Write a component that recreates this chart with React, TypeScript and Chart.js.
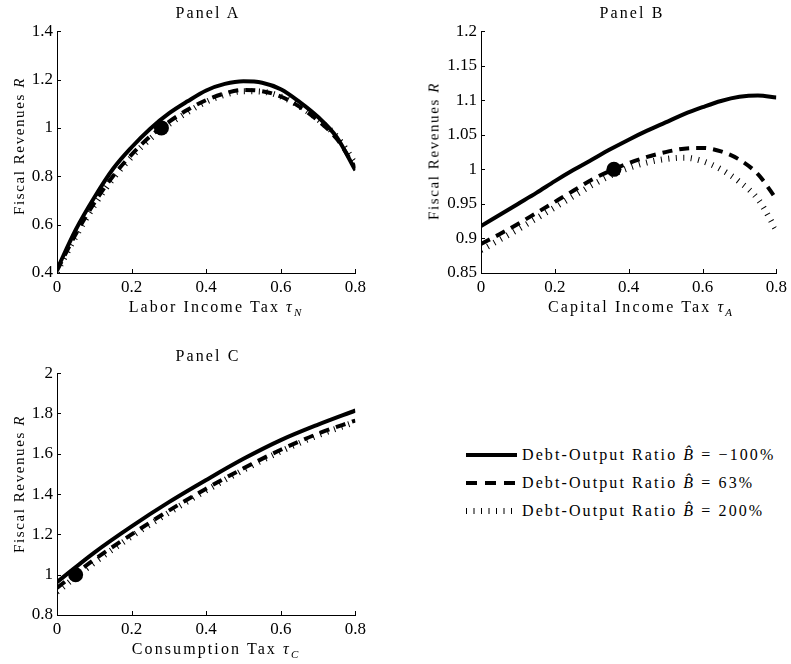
import React, { useEffect, useRef } from "react";
import { Chart, registerables } from "chart.js";

Chart.register(...registerables);

const FONT = "'Liberation Serif', 'Times New Roman', serif";

// ---------- DATA ----------
const TAX_A = [0, 0.05, 0.1, 0.15, 0.2, 0.25, 0.3, 0.35, 0.4, 0.45, 0.5, 0.55, 0.6, 0.65, 0.7, 0.75, 0.8];
const A_SOLID = [0.415, 0.578, 0.712, 0.83, 0.92, 0.997, 1.06, 1.11, 1.155, 1.182, 1.193, 1.187, 1.16, 1.108, 1.045, 0.962, 0.825];
const A_DASHED = [0.41, 0.56, 0.69, 0.8, 0.89, 0.965, 1.025, 1.075, 1.115, 1.143, 1.157, 1.152, 1.13, 1.088, 1.03, 0.955, 0.835];
const A_DOTTED = [0.405, 0.55, 0.68, 0.79, 0.88, 0.955, 1.015, 1.065, 1.108, 1.137, 1.152, 1.15, 1.13, 1.09, 1.035, 0.964, 0.855];

const TAX_B = [0, 0.05, 0.1, 0.15, 0.2, 0.25, 0.3, 0.35, 0.4, 0.45, 0.5, 0.55, 0.6, 0.65, 0.7, 0.75, 0.8];
const B_SOLID = [0.918, 0.934, 0.95, 0.966, 0.983, 0.999, 1.014, 1.029, 1.043, 1.056, 1.068, 1.08, 1.09, 1.099, 1.105, 1.107, 1.104];
const B_DASHED = [0.892, 0.906, 0.921, 0.937, 0.953, 0.969, 0.985, 0.998, 1.009, 1.018, 1.025, 1.03, 1.031, 1.026, 1.014, 0.993, 0.957];
const B_DOTTED = [0.883, 0.898, 0.913, 0.929, 0.945, 0.961, 0.977, 0.991, 1.002, 1.01, 1.015, 1.017, 1.012, 1.0, 0.982, 0.957, 0.912];

const TAX_C = [0, 0.1, 0.2, 0.3, 0.4, 0.5, 0.6, 0.7, 0.8];
const C_SOLID = [0.963, 1.11, 1.24, 1.36, 1.47, 1.575, 1.668, 1.745, 1.815];
const C_DASHED = [0.935, 1.075, 1.2, 1.318, 1.427, 1.528, 1.62, 1.7, 1.765];
const C_DOTTED = [0.915, 1.06, 1.19, 1.308, 1.418, 1.52, 1.612, 1.692, 1.758];

// benchmark (calibrated) points: A, B, C
const BENCH_X = [0.28, 0.36, 0.05];
const BENCH_Y = [1, 1, 1];

const X_TICKS = [0, 0.2, 0.4, 0.6, 0.8];
const A_Y_TICKS = [0.4, 0.6, 0.8, 1, 1.2, 1.4];
const B_Y_TICKS = [0.85, 0.9, 0.95, 1, 1.05, 1.1, 1.15, 1.2];
const C_Y_TICKS = [0.8, 1, 1.2, 1.4, 1.6, 1.8, 2];

const PANEL_TITLES = ["Panel A", "Panel B", "Panel C"];
const X_TITLES = ["Labor Income Tax", "Capital Income Tax", "Consumption Tax"];
const X_SUBS = ["N", "A", "C"];
const Y_TITLE = "Fiscal Revenues";
const LEGEND_PREFIX = "Debt-Output Ratio ";
const LEGEND_VALUES = ["\u2212100%", "63%", "200%"];

// ---------- styles ----------
const SOLID_STYLE = { borderWidth: 4, borderDash: [] as number[] };
const DASHED_STYLE = { borderWidth: 4, borderDash: [10, 7] };
const DOTTED_STYLE = { borderWidth: 6, borderDash: [1, 6.5] };

const inwardTicks = {
  id: "inwardTicks",
  afterDraw(chart: any) {
    const { ctx, chartArea: ca, scales } = chart;
    const x = scales.x;
    const y = scales.y;
    ctx.save();
    ctx.strokeStyle = "#000";
    ctx.lineWidth = 1;
    ctx.beginPath();
    x.ticks.forEach((t: any) => {
      const px = Math.round(x.getPixelForValue(t.value)) + 0.5;
      ctx.moveTo(px, ca.bottom);
      ctx.lineTo(px, ca.bottom - 4);
    });
    y.ticks.forEach((t: any) => {
      const py = Math.round(y.getPixelForValue(t.value)) + 0.5;
      ctx.moveTo(ca.left, py);
      ctx.lineTo(ca.left + 4, py);
    });
    ctx.stroke();
    ctx.restore();
  },
};

type PanelProps = {
  left: number;
  top: number;
  width: number;
  height: number;
  padRight: number;
  yAxisWidth: number;
  xs: number[];
  solid: number[];
  dashed: number[];
  dotted: number[];
  benchIndex: number;
  yTicks: number[];
};

function toPts(xs: number[], ys: number[]) {
  return xs.map((x, i) => ({ x, y: ys[i] }));
}

function Panel(p: PanelProps) {
  const ref = useRef<HTMLCanvasElement | null>(null);
  useEffect(() => {
    if (!ref.current) return;
    const lineBase = {
      borderColor: "#000",
      backgroundColor: "#000",
      pointRadius: 0,
      fill: false,
      cubicInterpolationMode: "monotone" as const,
      borderCapStyle: "butt" as const,
    };
    const tickFont = { family: FONT, size: 17 };
    const chart = new Chart(ref.current, {
      type: "line",
      data: {
        datasets: [
          {
            label: "benchmark",
            data: [{ x: BENCH_X[p.benchIndex], y: BENCH_Y[p.benchIndex] }],
            showLine: false,
            pointRadius: 7.5,
            pointBackgroundColor: "#000",
            pointBorderColor: "#000",
            pointBorderWidth: 0,
          },
          { ...lineBase, ...DOTTED_STYLE, label: "200%", data: toPts(p.xs, p.dotted) },
          { ...lineBase, ...DASHED_STYLE, label: "63%", data: toPts(p.xs, p.dashed) },
          { ...lineBase, ...SOLID_STYLE, label: "-100%", data: toPts(p.xs, p.solid) },
        ] as any,
      },
      options: {
        animation: false,
        responsive: false,
        maintainAspectRatio: false,
        events: [],
        layout: { padding: { top: 10, right: p.padRight, left: 0, bottom: 0 } },
        plugins: {
          legend: { display: false },
          tooltip: { enabled: false },
          title: { display: false },
        },
        scales: {
          x: {
            type: "linear",
            min: 0,
            max: 0.8,
            afterBuildTicks: (s: any) => {
              s.ticks = X_TICKS.map((v) => ({ value: v }));
            },
            afterFit: (s: any) => {
              s.height = 34;
            },
            grid: { display: false, drawTicks: false },
            border: { display: true, color: "#000", width: 1 },
            ticks: {
              font: tickFont,
              color: "#000",
              padding: 4,
              maxRotation: 0,
              autoSkip: false,
              callback: (v: any) => String(v),
            },
          },
          y: {
            type: "linear",
            min: p.yTicks[0],
            max: p.yTicks[p.yTicks.length - 1],
            afterBuildTicks: (s: any) => {
              s.ticks = p.yTicks.map((v) => ({ value: v }));
            },
            afterFit: (s: any) => {
              s.width = p.yAxisWidth;
            },
            grid: { display: false, drawTicks: false },
            border: { display: true, color: "#000", width: 1 },
            ticks: {
              font: tickFont,
              color: "#000",
              padding: 4,
              autoSkip: false,
              callback: (v: any) => String(v),
            },
          },
        },
      } as any,
      plugins: [inwardTicks],
    });
    return () => chart.destroy();
  }, []);
  return (
    <canvas
      ref={ref}
      width={p.width}
      height={p.height}
      style={{ position: "absolute", left: p.left, top: p.top, width: p.width, height: p.height }}
    />
  );
}

const TEXT_SIZE = 16;
const baseText: React.CSSProperties = {
  position: "absolute",
  fontFamily: FONT,
  fontSize: TEXT_SIZE,
  lineHeight: `${TEXT_SIZE}px`,
  letterSpacing: "2.1px",
  whiteSpace: "nowrap",
  color: "#000",
};

function CenterText(props: { cx: number; baseline: number; children: React.ReactNode }) {
  return (
    <div
      style={{
        ...baseText,
        left: props.cx,
        top: props.baseline - 0.84 * TEXT_SIZE,
        transform: "translateX(-50%)",
      }}
    >
      {props.children}
    </div>
  );
}

function YTitle(props: { cx: number; cy: number }) {
  return (
    <div
      style={{
        ...baseText,
        fontSize: 15,
        lineHeight: "15px",
        letterSpacing: "1.6px",
        left: props.cx,
        top: props.cy,
        transform: "translate(-50%, -50%) rotate(-90deg)",
      }}
    >
      {Y_TITLE} <i>R</i>
    </div>
  );
}

function XTitle(props: { i: number; cx: number; baseline: number }) {
  return (
    <CenterText cx={props.cx} baseline={props.baseline}>
      {X_TITLES[props.i]} <i>τ</i>
      <sub style={{ fontSize: 11, fontStyle: "italic", letterSpacing: 0 }}>{X_SUBS[props.i]}</sub>
    </CenterText>
  );
}

const LEG_Y = [455, 483, 511];
const LEG_STYLES = [
  { w: 4, dash: "" },
  { w: 4, dash: "11 8" },
  { w: 6, dash: "1 6.5" },
];

export default function App() {
  return (
    <div
      style={{
        position: "absolute",
        left: 0,
        top: 0,
        width: 791,
        height: 664,
        background: "#fff",
        overflow: "hidden",
      }}
    >
      <Panel left={0} top={17} width={370} height={290} padRight={14} yAxisWidth={57}
        xs={TAX_A} solid={A_SOLID} dashed={A_DASHED} dotted={A_DOTTED} benchIndex={0} yTicks={A_Y_TICKS} />
      <Panel left={400} top={17} width={391} height={290} padRight={12} yAxisWidth={81}
        xs={TAX_B} solid={B_SOLID} dashed={B_DASHED} dotted={B_DOTTED} benchIndex={1} yTicks={B_Y_TICKS} />
      <Panel left={0} top={359} width={370} height={290} padRight={14} yAxisWidth={57}
        xs={TAX_C} solid={C_SOLID} dashed={C_DASHED} dotted={C_DOTTED} benchIndex={2} yTicks={C_Y_TICKS} />

      <CenterText cx={208} baseline={18}>{PANEL_TITLES[0]}</CenterText>
      <CenterText cx={632} baseline={18}>{PANEL_TITLES[1]}</CenterText>
      <CenterText cx={208} baseline={361}>{PANEL_TITLES[2]}</CenterText>

      <XTitle i={0} cx={215} baseline={312} />
      <XTitle i={1} cx={640} baseline={312} />
      <XTitle i={2} cx={215} baseline={654} />

      <YTitle cx={19} cy={146} />
      <YTitle cx={434} cy={151} />
      <YTitle cx={19} cy={484} />

      {LEGEND_VALUES.map((v, i) => (
        <React.Fragment key={i}>
          <svg
            width={52}
            height={12}
            style={{ position: "absolute", left: 466, top: LEG_Y[i] - 6 }}
          >
            <line
              x1={0}
              y1={6}
              x2={51}
              y2={6}
              stroke="#000"
              strokeWidth={LEG_STYLES[i].w}
              strokeDasharray={LEG_STYLES[i].dash || undefined}
            />
          </svg>
          <div
            style={{
              ...baseText,
              left: 522,
              top: LEG_Y[i] + 5 - 0.84 * TEXT_SIZE,
            }}
          >
            {LEGEND_PREFIX}
            <i>B&#770;</i> = {v}
          </div>
        </React.Fragment>
      ))}
    </div>
  );
}
